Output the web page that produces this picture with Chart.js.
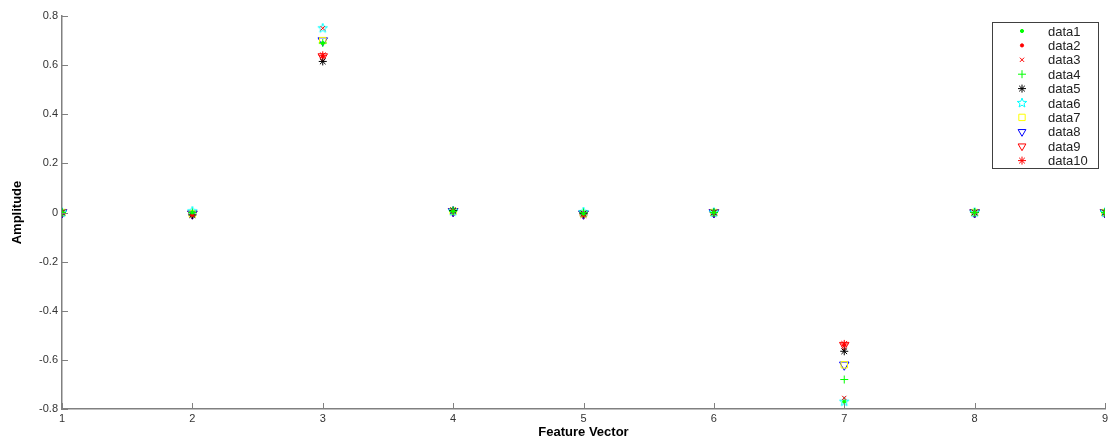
<!DOCTYPE html>
<html lang="en">
<head>
  <meta charset="UTF-8">
  <title>Feature Vector Amplitude</title>
  <script src="https://cdn.jsdelivr.net/npm/chart.js"></script>
  <style>
    body { margin: 0; background: #fff; }
    canvas { display: block; }
  </style>
</head>
<body>
  <canvas id="chart" width="1112" height="443"></canvas>
  <script>
    // feature index on the x axis
    const features = [1, 2, 3, 4, 5, 6, 7, 8, 9];
    const seriesNames = ["data1", "data2", "data3", "data4", "data5", "data6", "data7", "data8", "data9", "data10"];

    const data1  = [0,     0,      0.690, 0.005, -0.005, 0,  -0.770, 0, 0];
    const data2  = [0,    -0.010,  0.635, 0.005, -0.010, 0,  -0.540, 0, 0];
    const data3  = [0,    -0.005,  0.750, 0.005, -0.005, 0,  -0.755, 0, 0];
    const data4  = [0,     0,      0.690, 0.005,  0,     0,  -0.680, 0, 0];
    const data5  = [0,    -0.010,  0.615, 0.008, -0.005, 0,  -0.565, 0, 0];
    const data6  = [0,     0.005,  0.750, 0.005,  0.002, 0,  -0.770, 0, 0];
    const data7  = [0,    -0.005,  0.700, 0.005, -0.005, 0,  -0.620, 0, 0];
    const data8  = [0,    -0.005,  0.700, 0.005, -0.005, 0,  -0.620, 0, 0];
    const data9  = [0,    -0.005,  0.635, 0.005, -0.005, 0,  -0.540, 0, 0];
    const data10 = [0.003,-0.008,  0.640, 0.008, -0.010, 0,  -0.535, 0, 0];

    const yTicks = [-0.8, -0.6, -0.4, -0.2, 0, 0.2, 0.4, 0.6, 0.8];

    // matlab style pentagram for data6
    function pentagram(color, r) {
      const c = document.createElement("canvas");
      const s = Math.ceil(r * 2 + 4);
      c.width = s; c.height = s;
      const g = c.getContext("2d");
      g.strokeStyle = color;
      g.lineWidth = 1;
      g.beginPath();
      for (let i = 0; i < 10; i++) {
        const rr = i % 2 === 0 ? r : r * 0.42;
        const a = -Math.PI / 2 + i * Math.PI / 5;
        const px = s / 2 + rr * Math.cos(a), py = s / 2 + rr * Math.sin(a);
        if (i === 0) g.moveTo(px, py); else g.lineTo(px, py);
      }
      g.closePath();
      g.stroke();
      return c;
    }

    const styles = [
      { color: "#00ff00", pointStyle: "circle", radius: 1.6, fill: true },
      { color: "#ff0000", pointStyle: "circle", radius: 1.6, fill: true },
      { color: "#ff0000", pointStyle: "crossRot", radius: 3 },
      { color: "#00ff00", pointStyle: "cross", radius: 4 },
      { color: "#000000", pointStyle: "star", radius: 4 },
      { color: "#00ffff", pointStyle: pentagram("#00ffff", 5), radius: 5 },
      { color: "#ffff00", pointStyle: "rect", radius: 4.5 },
      { color: "#0000ff", pointStyle: "triangle", radius: 5.5, rotation: 180 },
      { color: "#ff0000", pointStyle: "triangle", radius: 5.5, rotation: 180 },
      { color: "#ff0000", pointStyle: "star", radius: 4 }
    ];

    const allSeries = [data1, data2, data3, data4, data5, data6, data7, data8, data9, data10];

    const datasets = allSeries.map((vals, i) => {
      const st = styles[i];
      return {
        label: seriesNames[i],
        data: features.map((x, j) => ({ x: x, y: vals[j] })),
        showLine: false,
        pointStyle: st.pointStyle,
        pointRadius: st.radius,
        pointRotation: st.rotation || 0,
        pointBorderColor: st.color,
        pointBackgroundColor: st.fill ? st.color : "rgba(0,0,0,0)",
        pointBorderWidth: 1,
        borderColor: st.color,
        backgroundColor: st.fill ? st.color : "rgba(0,0,0,0)"
      };
    });

    // inward tick marks and the boxed legend, like the matlab figure
    const matlabBits = {
      id: "matlabBits",
      afterDraw(chart) {
        const ctx = chart.ctx;
        const xs = chart.scales.x, ys = chart.scales.y;
        const area = chart.chartArea;
        ctx.save();
        ctx.strokeStyle = "#808080";
        ctx.lineWidth = 1;
        xs.ticks.forEach(t => {
          const px = Math.round(xs.getPixelForValue(t.value)) + 0.5;
          ctx.beginPath();
          ctx.moveTo(px, area.bottom);
          ctx.lineTo(px, area.bottom - 6);
          ctx.stroke();
        });
        ys.ticks.forEach(t => {
          const py = Math.round(ys.getPixelForValue(t.value)) + 0.5;
          ctx.beginPath();
          ctx.moveTo(area.left, py);
          ctx.lineTo(area.left + 6, py);
          ctx.stroke();
        });

        // legend
        const bx = 992.5, by = 22.5, bw = 106, bh = 146;
        ctx.fillStyle = "#fff";
        ctx.fillRect(bx, by, bw, bh);
        ctx.strokeStyle = "#404040";
        ctx.strokeRect(bx, by, bw, bh);
        ctx.font = "13px 'Liberation Sans', Arial, sans-serif";
        ctx.textBaseline = "middle";
        ctx.textAlign = "left";
        chart.data.datasets.forEach((ds, i) => {
          const y = 31 + i * 14.4;
          ctx.strokeStyle = ds.pointBorderColor;
          ctx.fillStyle = ds.pointBackgroundColor;
          ctx.lineWidth = 1;
          Chart.helpers.drawPoint(ctx, {
            pointStyle: ds.pointStyle,
            rotation: ds.pointRotation,
            radius: Math.min(ds.pointRadius, 4.5),
            borderWidth: 1
          }, 1022, y);
          ctx.fillStyle = "#222";
          ctx.fillText(ds.label, 1048, y + 1);
        });
        ctx.restore();
      }
    };

    new Chart(document.getElementById("chart"), {
      type: "scatter",
      data: { datasets: datasets },
      plugins: [matlabBits],
      options: {
        responsive: false,
        animation: false,
        layout: { padding: { left: 0, right: 7, top: 16, bottom: 0 } },
        plugins: {
          legend: { display: false },
          tooltip: { enabled: false }
        },
        scales: {
          x: {
            type: "linear",
            min: 1,
            max: 9,
            afterFit: s => { s.height = 34; },
            grid: { display: false, drawTicks: false },
            border: { display: true, color: "#808080", width: 1.5 },
            ticks: {
              stepSize: 1,
              padding: 3,
              color: "#333",
              font: { family: "'Liberation Sans', Arial, sans-serif", size: 11 }
            },
            title: {
              display: true,
              text: "Feature Vector",
              color: "#000",
              padding: { top: 3, bottom: 3 },
              font: { family: "'Liberation Sans', Arial, sans-serif", size: 13, weight: "bold" }
            }
          },
          y: {
            min: -0.8,
            max: 0.8,
            afterFit: s => { s.width = 62; },
            afterBuildTicks: s => { s.ticks = yTicks.map(v => ({ value: v })); },
            grid: { display: false, drawTicks: false },
            border: { display: true, color: "#808080", width: 1.5 },
            ticks: {
              padding: 4,
              color: "#333",
              callback: v => String(+v.toFixed(1)),
              font: { family: "'Liberation Sans', Arial, sans-serif", size: 11 }
            },
            title: {
              display: true,
              text: "Amplitude",
              color: "#000",
              padding: { top: 10, bottom: 0 },
              font: { family: "'Liberation Sans', Arial, sans-serif", size: 13, weight: "bold" }
            }
          }
        }
      }
    });
  </script>
</body>
</html>
